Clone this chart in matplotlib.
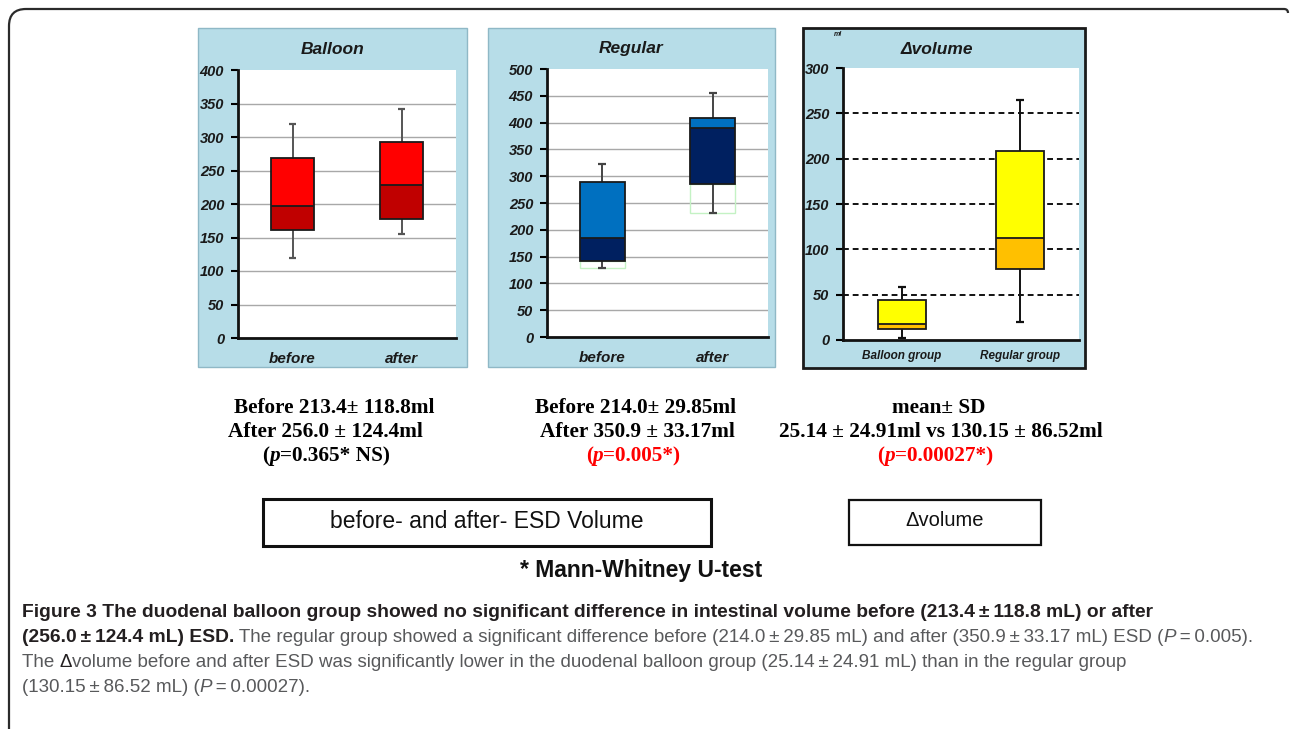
import matplotlib
matplotlib.use("Agg")
import matplotlib.pyplot as plt
from matplotlib.patches import Rectangle, PathPatch
from matplotlib.path import Path
import numpy as np

# ----------------------------------------------------
# data
# ----------------------------------------------------
time_labels = ["before", "after"]
balloon_lo = [120, 155]
balloon_q1 = [161, 178]
balloon_med = [197, 228]
balloon_q3 = [268, 292]
balloon_hi = [320, 342]

regular_lo = [128, 232]
regular_q1 = [142, 285]
regular_med = [185, 390]
regular_q3 = [290, 408]
regular_hi = [322, 455]

delta_labels = ["Balloon group", "Regular group"]
delta_lo = [2, 20]
delta_q1 = [12, 78]
delta_med = [18, 113]
delta_q3 = [44, 208]
delta_hi = [58, 265]

W, H = 1290, 729
fig = plt.figure(figsize=(W / 100, H / 100), dpi=100)
fig.patch.set_facecolor("white")

SANS = ["Liberation Sans", "DejaVu Sans"]
SERIF = ["Liberation Serif", "DejaVu Serif"]


def px_rect(x0, y0, x1, y1):
    return [x0 / W, 1 - y1 / H, (x1 - x0) / W, (y1 - y0) / H]


def add_rect(x0, y0, x1, y1, fc, ec, lw, z=-1):
    r = Rectangle((x0 / W, 1 - y1 / H), (x1 - x0) / W, (y1 - y0) / H,
                  transform=fig.transFigure, facecolor=fc, edgecolor=ec,
                  lw=lw, zorder=z)
    fig.add_artist(r)


renderer = fig.canvas.get_renderer()


def text_w(s, **kw):
    t = fig.text(0, 0, "|" + s + "|", **kw)
    w1 = t.get_window_extent(renderer).width
    t.set_text("||")
    w2 = t.get_window_extent(renderer).width
    t.remove()
    return (w1 - w2) / W


def rich_line(x, y, pieces, ha="left"):
    # pieces: list of (string, kwargs); x, y in pixels, y = baseline
    widths = [text_w(s, **kw) for s, kw in pieces]
    start = x / W
    if ha == "center":
        start -= sum(widths) / 2
    for (s, kw), w in zip(pieces, widths):
        fig.text(start, 1 - y / H, s, va="baseline", ha="left", **kw)
        start += w


def draw_boxes(ax, lo, q1, med, q3, hi, light, dark, wcol, width=0.4):
    x = np.arange(1, len(lo) + 1)
    lo, q1, med, q3, hi = map(np.array, (lo, q1, med, q3, hi))
    ax.vlines(x, lo, q1, color=wcol, lw=1.4, zorder=2)
    ax.vlines(x, q3, hi, color=wcol, lw=1.4, zorder=2)
    ax.hlines(lo, x - 0.035, x + 0.035, color=wcol, lw=1.6, zorder=2)
    ax.hlines(hi, x - 0.035, x + 0.035, color=wcol, lw=1.6, zorder=2)
    ax.bar(x, med - q1, width, bottom=q1, color=dark, edgecolor="none", zorder=3)
    ax.bar(x, q3 - med, width, bottom=med, color=light, edgecolor="none", zorder=3)
    ax.hlines(med, x - width / 2, x + width / 2, color="#1a1a1a", lw=1.3, zorder=4)
    ax.bar(x, q3 - q1, width, bottom=q1, fill=False, edgecolor="#1a1a1a",
           lw=1.3, zorder=4)
    return x


def style_axes(ax, ymax, step, labels, xfs, xpad):
    ax.set_xlim(0.5, 2.5)
    ax.set_ylim(0, ymax)
    ax.set_yticks(np.arange(0, ymax + 1, step))
    ax.set_xticks([1, 2])
    ax.set_xticklabels(labels, fontsize=xfs, fontweight="bold",
                       fontstyle="italic", family=SANS, color="#1a1a1a")
    ax.tick_params(axis="x", length=0, pad=xpad)
    ax.tick_params(axis="y", length=5, width=1.5, direction="out", pad=5,
                   labelsize=10.5, labelcolor="#1a1a1a")
    for lab in ax.get_yticklabels():
        lab.set_fontweight("bold")
        lab.set_fontstyle("italic")
        lab.set_family(SANS)
    for s in ["top", "right"]:
        ax.spines[s].set_visible(False)
    for s in ["left", "bottom"]:
        ax.spines[s].set_linewidth(2)
        ax.spines[s].set_color("#111111")
    ax.set_axisbelow(True)


def panel_title(x, y, s):
    fig.text(x / W, 1 - y / H, s, ha="center", va="center", fontsize=12.5,
             fontweight="bold", fontstyle="italic", family=SANS, color="#1a1a1a")


# ----------------------------------------------------
# outer frame (rounded top-left corner)
# ----------------------------------------------------
verts = [(9, 729), (9, 26), (9, 9), (26, 9), (1284, 9), (1288, 9), (1288, 13)]
codes = [Path.MOVETO, Path.LINETO, Path.CURVE3, Path.CURVE3, Path.LINETO,
         Path.CURVE3, Path.CURVE3]
frame = Path([(vx / W, 1 - vy / H) for vx, vy in verts], codes)
fig.add_artist(PathPatch(frame, transform=fig.transFigure, fill=False,
                         edgecolor="#2b2b2b", lw=1.6, zorder=5))

LIGHT_BLUE = "#b7dde8"

# ----------------------------------------------------
# Balloon panel
# ----------------------------------------------------
add_rect(198, 28, 467, 367, LIGHT_BLUE, "#8fb8c6", 1)
ax1 = fig.add_axes(px_rect(238, 70, 456, 338))
ax1.set_facecolor("white")
draw_boxes(ax1, balloon_lo, balloon_q1, balloon_med, balloon_q3, balloon_hi,
           "#ff0000", "#c00000", "#555555", width=0.4)
style_axes(ax1, 400, 50, time_labels, 11, 10)
ax1.grid(axis="y", color="#a8a8a8", lw=1)
ax1.yaxis.get_gridlines()[-1].set_visible(False)
panel_title(333, 49, "Balloon")

# ----------------------------------------------------
# Regular panel
# ----------------------------------------------------
add_rect(488, 28, 775, 367, LIGHT_BLUE, "#8fb8c6", 1)
ax2 = fig.add_axes(px_rect(547, 69, 768, 337))
ax2.set_facecolor("white")
x2 = np.arange(1, 3)
ax2.bar(x2, np.array(regular_q1) - np.array(regular_lo), 0.41, bottom=regular_lo,
        fill=False, edgecolor="#c4f2c4", lw=1, zorder=2)
draw_boxes(ax2, regular_lo, regular_q1, regular_med, regular_q3, regular_hi,
           "#0070c0", "#002060", "#444444", width=0.41)
style_axes(ax2, 500, 50, time_labels, 11, 10)
ax2.grid(axis="y", color="#a8a8a8", lw=1)
ax2.yaxis.get_gridlines()[-1].set_visible(False)
panel_title(631, 49, "Regular")

# ----------------------------------------------------
# Delta volume panel
# ----------------------------------------------------
add_rect(803, 28, 1085, 368, LIGHT_BLUE, "#1a1a1a", 2)
ax3 = fig.add_axes(px_rect(843, 68, 1079, 340))
ax3.set_facecolor("white")
draw_boxes(ax3, delta_lo, delta_q1, delta_med, delta_q3, delta_hi,
           "#ffff00", "#ffc000", "#111111", width=0.4)
style_axes(ax3, 300, 50, delta_labels, 8.5, 7)
for yv in np.arange(50, 251, 50):
    ax3.axhline(yv, color="#111111", lw=1.4, ls=(0, (3, 2)), zorder=1)
panel_title(937, 49, "\u0394volume")
fig.text(838 / W, 1 - 34 / H, "ml", ha="center", va="center", fontsize=5,
         fontweight="bold", fontstyle="italic", family=SANS, color="#1a1a1a")

# ----------------------------------------------------
# summary text under the panels
# ----------------------------------------------------
sb = dict(family=SERIF, fontweight="bold", fontsize=15.3, color="black")
sbi = dict(sb, fontstyle="italic")
red = dict(sb, color="#ff0000")
redi = dict(red, fontstyle="italic")

rich_line(334, 413, [("Before 213.4\u00b1 118.8ml", sb)], ha="center")
rich_line(325, 437, [("After 256.0 \u00b1 124.4ml", sb)], ha="center")
rich_line(326, 461, [("(", sb), ("p", sbi), ("=0.365* NS)", sb)], ha="center")

rich_line(636, 413, [("Before 214.0\u00b1 29.85ml", sb)], ha="center")
rich_line(637, 437, [("After 350.9 \u00b1 33.17ml", sb)], ha="center")
rich_line(633, 461, [("(", red), ("p", redi), ("=0.005*)", red)], ha="center")

rich_line(939, 413, [("mean\u00b1 SD", sb)], ha="center")
rich_line(941, 437, [("25.14 \u00b1 24.91ml vs 130.15 \u00b1 86.52ml", sb)], ha="center")
rich_line(935, 461, [("(", red), ("p", redi), ("=0.00027*)", red)], ha="center")

# ----------------------------------------------------
# labelled boxes
# ----------------------------------------------------
add_rect(263, 499, 711, 546, "white", "#111111", 2.2, z=1)
fig.text(487 / W, 1 - 522 / H, "before- and after- ESD Volume", ha="center",
         va="center", fontsize=16.5, family=SANS, color="#111111")
add_rect(849, 500, 1041, 545, "white", "#111111", 1.6, z=1)
fig.text(945 / W, 1 - 521 / H, "\u0394volume", ha="center", va="center",
         fontsize=14.5, family=SANS, color="#111111")
fig.text(641 / W, 1 - 570 / H, "* Mann-Whitney U-test", ha="center",
         va="center", fontsize=16.5, fontweight="bold", family=SANS,
         color="#111111")

# ----------------------------------------------------
# caption
# ----------------------------------------------------
cb = dict(family=SANS, fontweight="bold", fontsize=13.9, color="#231f20")
cn = dict(family=SANS, fontsize=13.5, color="#58595b")
ci = dict(cn, fontstyle="italic")
cd = dict(cn, color="#231f20")

rich_line(22, 617, [("Figure 3 The duodenal balloon group showed no significant "
                     "difference in intestinal volume before (213.4\u2009\u00b1\u2009"
                     "118.8 mL) or after", cb)])
rich_line(22, 642, [("(256.0\u2009\u00b1\u2009124.4 mL) ESD.", cb),
                    (" The regular group showed a significant difference before "
                     "(214.0\u2009\u00b1\u200929.85 mL) and after (350.9\u2009\u00b1"
                     "\u200933.17 mL) ESD (", cn), ("P", ci), ("\u2009=\u20090.005).", cn)])
rich_line(22, 667, [("The ", cn), ("\u0394", cd),
                    ("volume before and after ESD was significantly lower in the "
                     "duodenal balloon group (25.14\u2009\u00b1\u200924.91 mL) than in "
                     "the regular group", cn)])
rich_line(22, 692, [("(130.15\u2009\u00b1\u200986.52 mL) (", cn), ("P", ci),
                    ("\u2009=\u20090.00027).", cn)])

fig.savefig("out.png", dpi=100)
